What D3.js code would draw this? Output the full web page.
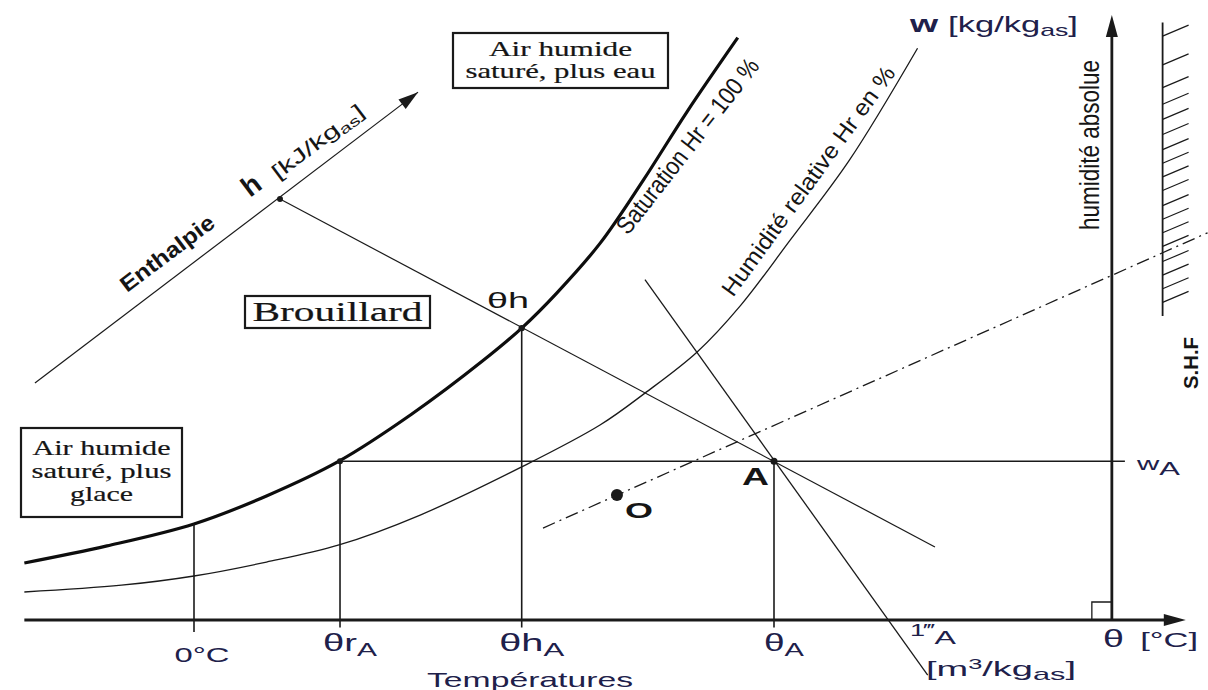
<!DOCTYPE html>
<html lang="fr">
<head>
<meta charset="utf-8">
<title>Diagramme de l'air humide</title>
<script src="https://d3js.org/d3.v7.min.js"></script>
<style>
  body { margin: 0; background: #fff; }
  text { font-family: "Liberation Sans", Arial, sans-serif; fill: #151515; }
  .serif { font-family: "Liberation Serif", "Times New Roman", serif; stroke: #151515; stroke-width: 0.2; }
  .blue { fill: #20204a; }
</style>
</head>
<body>
<script>
// 1. size of the picture
const svgW = 1208;
const svgH = 690;

// 2. data (schematic units: theta in degC, w in g/kg)
const satTheta = [-11.7, -6, 0, 5, 10, 15, 20, 22.6, 25, 28, 31, 34, 37.5];
const satW     = [3.77, 4.9, 6.35, 8.2, 10.5, 13.6, 17.2, 19.3, 21.6, 24.9, 29.1, 33.6, 38.5];

const rhTheta = [-11.7, -5, 0, 5, 10, 15.6, 22.6, 28, 31.1, 34.7, 37.7, 41.1, 45.2, 49.9];
const rhW     = [1.85, 2.3, 2.91, 3.83, 4.96, 6.94, 10.12, 12.89, 15.0, 17.72, 20.8, 25.1, 30.4, 37.8];

const keyTheta = [0, 10.07, 22.6, 40];          // 0°C, θrA, θhA, θA
const keyLabels = ["0°C", "θr", "θh", "θ"];
const wA = 10.5;

const axisTheta = [-11.7, 68.4];                // horizontal axis extent
const axisW = [0, 40];                          // vertical axis extent
const wAxisTheta = 63.3;

const hAxis = [[-10.97, 15.67], [15.45, 34.9]]; // enthalpy scale line
const hPoint = [5.93, 27.83];
const hLine = [[5.93, 27.83], [51.1, 4.83]];    // isenthalpic through A
const vLine = [[31.1, 22.5], [50.6, -3.64]];    // specific volume through A
const dashLine = [[24.07, 6.08], [69.9, 25.6]]; // O - A line
const pointO = [29.17, 8.26];

const wallTheta = 66.8;
const wallW = [20.1, 39.5];
const hatchW = [38.6, 36.7, 35.2, 34.1, 33.1, 32.1, 31.1, 30.2, 29.3, 28.4,
                27.4, 26.5, 25.6, 24.7, 23.7, 22.8, 21.9, 21.0];

// 3. scales
const x = d3.scaleLinear().domain([-12, 68]).range([20, 1180]);
const y = d3.scaleLinear().domain([0, 40]).range([620, 15]);

// 4. svg
const svg = d3.select("body").append("svg")
  .attr("width", svgW).attr("height", svgH);

const ink = "#1a1a1a";

function seg(p, q, w, dash) {
  const l = svg.append("line")
    .attr("x1", x(p[0])).attr("y1", y(p[1]))
    .attr("x2", x(q[0])).attr("y2", y(q[1]))
    .attr("stroke", ink).attr("stroke-width", w);
  if (dash) l.attr("stroke-dasharray", dash);
  return l;
}

function arrowHead(p, q, len, wid) {
  const x1 = x(p[0]), y1 = y(p[1]), x2 = x(q[0]), y2 = y(q[1]);
  const d = Math.hypot(x2 - x1, y2 - y1);
  const ux = (x2 - x1) / d, uy = (y2 - y1) / d;
  const bx = x2 - ux * len, by = y2 - uy * len;
  const pts = [[x2, y2], [bx - uy * wid / 2, by + ux * wid / 2], [bx + uy * wid / 2, by - ux * wid / 2]];
  svg.append("polygon").attr("points", pts.map(d => d.join(",")).join(" ")).attr("fill", ink);
}

function dot(p, r) {
  svg.append("circle").attr("cx", x(p[0])).attr("cy", y(p[1])).attr("r", r).attr("fill", ink);
}

// 5. curves
const line = d3.line().x(d => x(d[0])).y(d => y(d[1])).curve(d3.curveCatmullRom.alpha(0.5));

svg.append("path").datum(rhTheta.map((t, i) => [t, rhW[i]]))
  .attr("d", line).attr("fill", "none").attr("stroke", ink).attr("stroke-width", 1.3);

svg.append("path").datum(satTheta.map((t, i) => [t, satW[i]]))
  .attr("d", line).attr("fill", "none").attr("stroke", "#0d0d0d").attr("stroke-width", 3.2);

// 6. construction lines
seg([keyTheta[0], satW[2]], [keyTheta[0], -0.8], 1.6);
seg([keyTheta[1], wA], [keyTheta[1], -0.5], 1.6);
seg([keyTheta[2], satW[7]], [keyTheta[2], -0.5], 1.6);
seg([keyTheta[3], wA], [keyTheta[3], -0.5], 1.6);
seg([keyTheta[1], wA], [64.2, wA], 1.6);

seg(hLine[0], hLine[1], 1.2);
seg(vLine[0], vLine[1], 1.3);
seg(dashLine[0], dashLine[1], 1.3, "13,5,2,5");

seg(hAxis[0], hAxis[1], 1.2);
arrowHead(hAxis[0], hAxis[1], 20, 12);

// axes
seg([axisTheta[0], 0], [axisTheta[1] - 1, 0], 2.8);
arrowHead([axisTheta[0], 0], [axisTheta[1], 0], 22, 12);
seg([wAxisTheta, 0], [wAxisTheta, axisW[1] - 1], 2.8);
arrowHead([wAxisTheta, 0], [wAxisTheta, axisW[1]], 22, 12);

// right angle mark
svg.append("path")
  .attr("d", `M${x(wAxisTheta) - 20},${y(0)} V${y(0) - 18} H${x(wAxisTheta)}`)
  .attr("fill", "none").attr("stroke", ink).attr("stroke-width", 1.3);

// hatched wall (S.H.F)
seg([wallTheta, wallW[0]], [wallTheta, wallW[1]], 1.8);
svg.selectAll(".hatch").data(hatchW).enter().append("line")
  .attr("x1", x(wallTheta)).attr("y1", d => y(d))
  .attr("x2", x(wallTheta) + 26).attr("y2", d => y(d) - 11)
  .attr("stroke", ink).attr("stroke-width", 1.2);

// points
dot(hPoint, 3);
dot([keyTheta[1], wA], 3);
dot([keyTheta[2], satW[7]], 3.2);
dot([keyTheta[3], wA], 3.5);
dot(pointO, 6);

// 7. texts
function rtext(px, py, ang, size, weight) {
  return svg.append("text")
    .attr("transform", `translate(${px},${py}) rotate(${ang})`)
    .attr("font-size", size).attr("font-weight", weight || "normal");
}
function fit(sel, len) {
  return sel.attr("textLength", len).attr("lengthAdjust", "spacingAndGlyphs");
}

fit(rtext(127, 293, -37, 22, "bold"), 112).text("Enthalpie");
rtext(250, 198, -37, 28, "bold").text("h");
const kj = fit(rtext(278, 180, -37, 20), 110);
kj.append("tspan").text("[kJ/kg");
kj.append("tspan").attr("font-size", 14).attr("dy", 4).text("as");
kj.append("tspan").attr("dy", -4).text("]");

fit(rtext(628, 236, -52, 25), 215).text("Saturation Hr = 100 %");
fit(rtext(733, 298, -54, 23), 278).text("Humidité relative Hr en %");

fit(rtext(1099, 230, -90, 27), 170).text("humidité absolue");
fit(rtext(1198, 389, -90, 21, "bold"), 52).text("S.H.F");

// w axis title
const wt = fit(svg.append("text").attr("x", 910).attr("y", 32).attr("font-size", 22).attr("class", "blue"), 168);
wt.append("tspan").attr("font-weight", "bold").attr("font-size", 23).text("w ");
wt.append("tspan").text("[kg/kg");
wt.append("tspan").attr("font-size", 17).attr("dy", 4).text("as");
wt.append("tspan").attr("dy", -4).text("]");

// boxes
function box(x0, y0, w, h, lines, size, base, step, lens) {
  svg.append("rect").attr("x", x0).attr("y", y0).attr("width", w).attr("height", h)
    .attr("fill", "none").attr("stroke", ink).attr("stroke-width", 2.2);
  lines.forEach((s, i) => {
    fit(svg.append("text").attr("class", "serif").attr("x", x0 + w / 2).attr("y", base + i * step)
      .attr("text-anchor", "middle").attr("font-size", size), lens[i]).text(s);
  });
}
box(453, 33, 215, 55, ["Air humide", "saturé, plus eau"], 21, 56, 22, [143, 190]);
box(245, 296, 185, 32, ["Brouillard"], 27, 321, 0, [170]);
box(21, 428, 161, 89, ["Air humide", "saturé, plus", "glace"], 21, 455, 23, [138, 140, 63]);

// point labels
fit(svg.append("text").attr("x", 487).attr("y", 308).attr("font-size", 22), 42).text("θh");
fit(svg.append("text").attr("x", 742).attr("y", 485).attr("font-size", 24).attr("font-weight", "bold"), 27).text("A");
fit(svg.append("text").attr("x", 625).attr("y", 518).attr("font-size", 22).attr("font-weight", "bold"), 28).text("O");

const wal = fit(svg.append("text").attr("x", 1137).attr("y", 470).attr("font-size", 19).attr("class", "blue"), 43);
wal.append("tspan").text("w");
wal.append("tspan").attr("dy", 5).text("A");

// bottom labels
const keyW = [55, 54, 65, 40];
fit(svg.append("text").attr("x", x(keyTheta[0]) + 8).attr("y", 662).attr("text-anchor", "middle")
  .attr("font-size", 21).attr("class", "blue"), keyW[0]).text(keyLabels[0]);
[1, 2, 3].forEach(i => {
  const t = fit(svg.append("text").attr("x", x(keyTheta[i]) + 10).attr("y", 651)
    .attr("text-anchor", "middle").attr("font-size", 23).attr("class", "blue"), keyW[i]);
  t.append("tspan").text(keyLabels[i]);
  t.append("tspan").attr("font-size", 18).attr("dy", 5).text("A");
});
fit(svg.append("text").attr("x", 427).attr("y", 687).attr("font-size", 21).attr("class", "blue"), 206)
  .text("Températures");

const v1 = fit(svg.append("text").attr("x", 910).attr("y", 636).attr("font-size", 16).attr("class", "blue"), 46);
v1.append("tspan").text("1‴");
v1.append("tspan").attr("font-size", 19).attr("dy", 8).text("A");

const vu = fit(svg.append("text").attr("x", 926).attr("y", 676).attr("font-size", 21).attr("class", "blue"), 150);
vu.append("tspan").text("[m");
vu.append("tspan").attr("font-size", 14).attr("dy", -7).text("3");
vu.append("tspan").attr("dy", 7).text("/kg");
vu.append("tspan").attr("font-size", 17).attr("dy", 4).text("as");
vu.append("tspan").attr("dy", -4).text("]");

const th = fit(svg.append("text").attr("x", 1103).attr("y", 647).attr("font-size", 23).attr("class", "blue"), 95);
th.append("tspan").text("θ");
th.append("tspan").attr("dx", 10).attr("font-size", 21).text("[°C]");
</script>
</body>
</html>
